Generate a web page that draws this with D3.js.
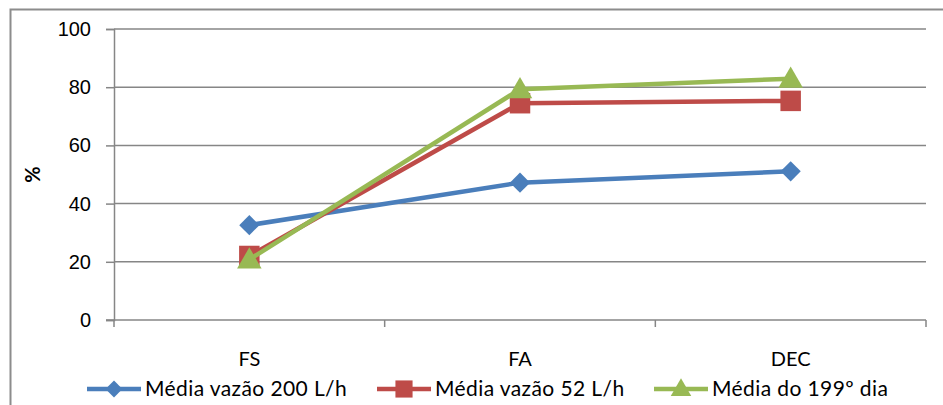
<!DOCTYPE html>
<html>
<head>
<meta charset="utf-8">
<script src="https://cdn.jsdelivr.net/npm/d3@7"></script>
<style>
  body { margin: 0; background: #fff; }
  svg { display: block; font-family: Lato, "Open Sans", sans-serif; }
</style>
</head>
<body>
<svg width="943" height="405"></svg>
<script>
// data
var categories = ["FS", "FA", "DEC"];
var seriesNames = ["Média vazão 200 L/h", "Média vazão 52 L/h", "Média do 199º dia"];
var vazao200 = [32.6, 47.2, 51.1];
var vazao52 = [22.0, 74.5, 75.3];
var dia199 = [20.8, 79.3, 82.9];
var yTicks = [0, 20, 40, 60, 80, 100];

var colors = ["#4a7ebb", "#be4b48", "#98b954"];
var symbols = [d3.symbolDiamond2, d3.symbolSquare, d3.symbolTriangle];
var symSizes = [260, 420, 260];

var svg = d3.select("svg");
var width = +svg.attr("width"),
    height = +svg.attr("height");

var margin = {left: 114, right: 17, top: 29, bottom: 85};

// outer chart border (cropped on the right and bottom)
svg.append("path")
    .attr("d", "M10.5," + (height + 2) + "V9.5H" + (width + 2))
    .attr("fill", "none")
    .attr("stroke", "#8c8c8c")
    .attr("stroke-width", 2);

var x = d3.scaleBand()
    .domain(categories)
    .range([margin.left, width - margin.right]);

var y = d3.scaleLinear()
    .domain([0, 100])
    .range([height - margin.bottom, margin.top]);

// gridlines
svg.append("g")
    .selectAll("line")
    .data(yTicks.slice(1))
    .join("line")
    .attr("x1", margin.left)
    .attr("x2", width - margin.right)
    .attr("y1", function(d) { return y(d); })
    .attr("y2", function(d) { return y(d); })
    .attr("stroke", "#868686")
    .attr("stroke-width", 1.5);

// y axis
var yAxis = svg.append("g")
    .attr("transform", "translate(" + margin.left + ",0)")
    .call(d3.axisLeft(y).tickValues(yTicks).tickSize(8).tickPadding(15));
yAxis.select(".domain").attr("stroke", "#868686").attr("stroke-width", 1.5);
yAxis.selectAll(".tick line").attr("stroke", "#868686").attr("stroke-width", 1.5);
yAxis.selectAll("text").attr("font-size", 20).attr("fill", "#000");

// x axis with ticks at band boundaries
var xAxis = svg.append("g")
    .attr("transform", "translate(0," + y(0) + ")");
xAxis.append("line")
    .attr("x1", margin.left - 8)
    .attr("x2", width - margin.right)
    .attr("stroke", "#868686")
    .attr("stroke-width", 1.5);
var bounds = categories.map(function(c) { return x(c); }).concat([x.range()[1]]);
xAxis.selectAll(".bt")
    .data(bounds)
    .join("line")
    .attr("x1", function(d) { return d; })
    .attr("x2", function(d) { return d; })
    .attr("y1", 0)
    .attr("y2", 7)
    .attr("stroke", "#868686")
    .attr("stroke-width", 1.5);
xAxis.selectAll(".cl")
    .data(categories)
    .join("text")
    .attr("x", function(d) { return x(d) + x.bandwidth() / 2; })
    .attr("y", 46)
    .attr("text-anchor", "middle")
    .attr("font-size", 20)
    .text(function(d) { return d; });

// y title
svg.append("text")
    .attr("transform", "translate(40," + y(50) + ") rotate(-90)")
    .attr("text-anchor", "middle")
    .attr("font-size", 20)
    .attr("font-weight", "bold")
    .text("%");

var allSeries = [vazao200, vazao52, dia199];
var line = d3.line()
    .x(function(d, i) { return x(categories[i]) + x.bandwidth() / 2; })
    .y(function(d) { return y(d); });

allSeries.forEach(function(values, s) {
  var g = svg.append("g");
  g.append("path")
      .attr("d", line(values))
      .attr("fill", "none")
      .attr("stroke", colors[s])
      .attr("stroke-width", 4.5)
      .attr("stroke-linejoin", "round");
  g.selectAll("path.m")
      .data(values)
      .join("path")
      .attr("class", "m")
      .attr("transform", function(d, i) {
        var dy = s === 2 ? 2 : 0;
        return "translate(" + (x(categories[i]) + x.bandwidth() / 2) + "," + (y(d) + dy) + ")";
      })
      .attr("d", d3.symbol().type(symbols[s]).size(symSizes[s]))
      .attr("fill", colors[s]);
});

// legend: x = start of each label
var legendX = [145, 435, 712];
var legend = svg.append("g");
seriesNames.forEach(function(name, s) {
  var lx = legendX[s], ly = 389;
  legend.append("line")
      .attr("x1", lx - 58).attr("x2", lx - 4)
      .attr("y1", ly).attr("y2", ly)
      .attr("stroke", colors[s])
      .attr("stroke-width", 4.5);
  legend.append("path")
      .attr("transform", "translate(" + (lx - 31) + "," + (ly + (s === 2 ? 1 : 0)) + ")")
      .attr("d", d3.symbol().type(symbols[s]).size(symSizes[s] * 0.7))
      .attr("fill", colors[s]);
  legend.append("text")
      .attr("x", lx)
      .attr("y", ly + 7)
      .attr("font-size", 21)
      .attr("letter-spacing", 0.4)
      .text(name);
});
</script>
</body>
</html>
